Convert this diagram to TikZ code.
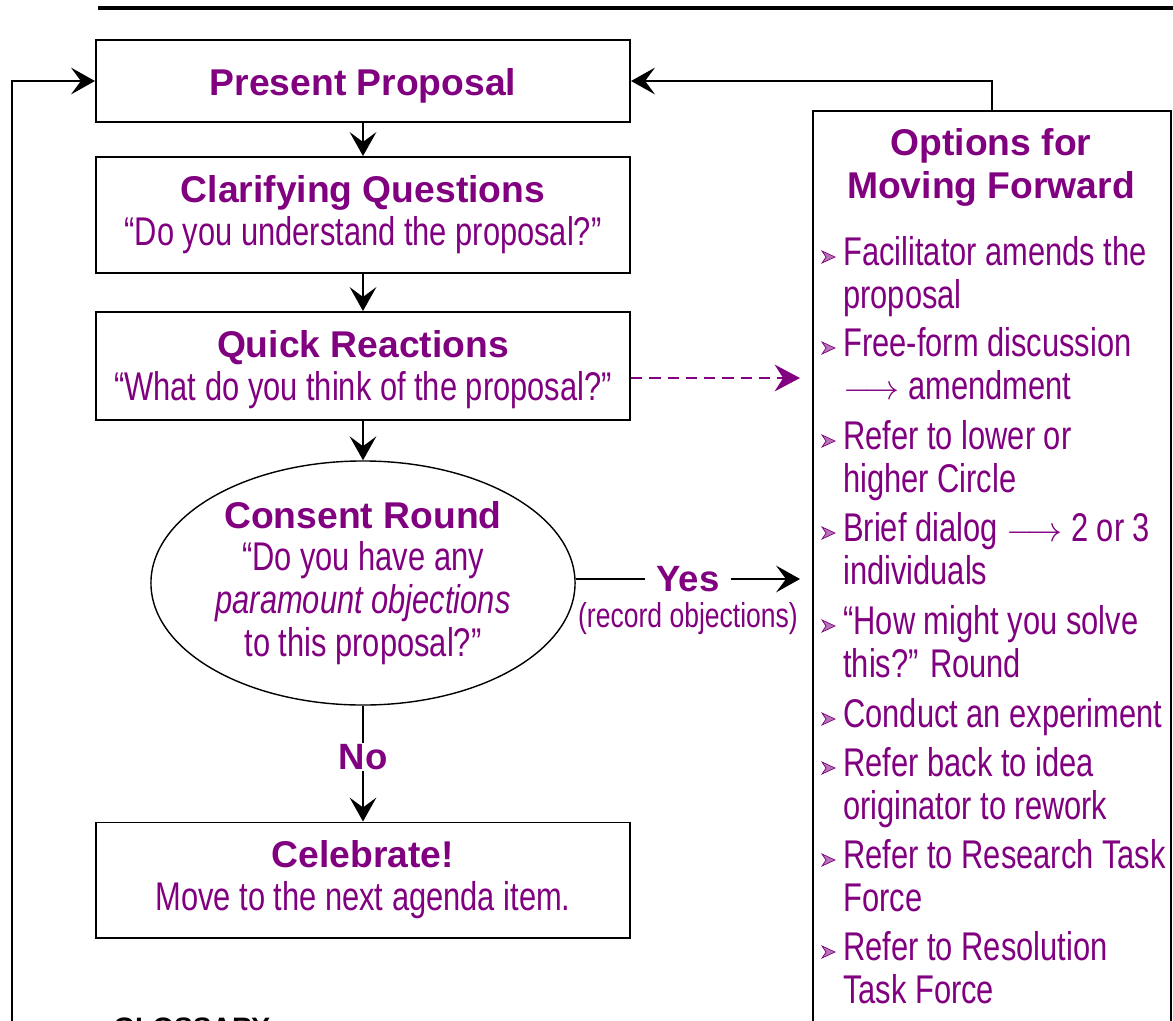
\documentclass[tikz,border=0pt]{standalone}
\usepackage{fontspec}
\setmainfont{Liberation Sans}[FakeStretch=0.77]
\newfontfamily\headfont{Liberation Sans}
\usetikzlibrary{arrows.meta,shapes.geometric}
\definecolor{plum}{RGB}{128,0,128}
\newcommand{\boxtitle}[1]{{\headfont\bfseries\fontsize{26.5}{30.5}\selectfont #1}}

\begin{document}
\begin{tikzpicture}[x=0.025cm,y=-0.025cm,
        every node/.style={text=plum},
        stepbox/.style={draw=black,line width=1.4pt,minimum width=13.35cm,inner sep=0pt,
            align=center,font=\fontsize{28.5}{30.5}\selectfont},
        item/.style={anchor=north west,inner sep=0pt,align=left,font=\fontsize{28.5}{30.5}\selectfont},
        bullet/.style={draw=plum,fill=plum!55,line width=0.5pt},
        arr/.style={-{Stealth[length=17pt,width=19pt,inset=7pt]},line width=1.4pt},
        dasharr/.style={draw=plum,dash pattern=on 8pt off 5pt,line width=1.4pt,
            -{Stealth[length=18pt,width=19pt,inset=6pt,fill=plum]}},
        answer/.style={fill=white,inner xsep=8pt,inner ysep=1pt,font=\headfont\bfseries\fontsize{26}{30}\selectfont}]
    \useasboundingbox (0,0) rectangle (1173,1021);
    \clip (0,0) rectangle (1173,1021);
    \draw[line width=3.5pt] (98,8) -- (1173,8);

    % main column
    \node[stepbox,minimum height=2.05cm,text height=26pt,text depth=5.6pt] (present) at (363,81)
        {\boxtitle{Present Proposal}};
    \node[stepbox,minimum height=2.9cm] (clarify) at (363,215)
        {\boxtitle{Clarifying Questions}\\“Do you understand the proposal?”};
    \node[stepbox,minimum height=2.7cm] (quick) at (363,366)
        {\boxtitle{Quick Reactions}\rule{0pt}{25pt}\\“What do you think of the proposal?”};
    \node[ellipse,draw=black,line width=1pt,minimum width=10.6cm,minimum height=6.1cm,inner sep=0pt,
        align=center,font=\fontsize{28.5}{30.5}\selectfont] (consent) at (363,583)
        {\boxtitle{Consent Round}\\“Do you have any\\\textit{paramount objections}\\to this proposal?”};
    \node[stepbox,minimum height=2.875cm] (celebrate) at (363,880)
        {\boxtitle{Celebrate!}\\Move to the next agenda item.};

    \draw[arr] (present) -- (clarify);
    \draw[arr] (clarify) -- (quick);
    \draw[arr] (quick) -- (consent);
    \draw[arr] (consent.south) -- node[answer,pos=0.44] (no) {No} (celebrate.north);

    % options box
    \node[draw=black,line width=1.4pt,minimum width=8.95cm,minimum height=23.75cm,anchor=north west,
        inner sep=0pt] (options) at (812,110) {};
    \node[anchor=north,inner sep=0pt,align=center,font=\headfont\bfseries\fontsize{26.5}{30.5}\selectfont]
        (optitle) at (991,128) {Options for\\Moving Forward};
    \foreach \yy/\txt [count=\i] in {
            236/{Facilitator amends the\\proposal},
            327/{Free-form discussion\\$\longrightarrow$ amendment},
            420/{Refer to lower or\\higher Circle},
            512/{Brief dialog $\longrightarrow$ 2 or 3\\individuals},
            605/{“How might you solve\\this?” Round},
            698/{Conduct an experiment},
            747/{Refer back to idea\\originator to rework},
            839/{Refer to Research Task\\Force},
            931/{Refer to Resolution\\Task Force}}{
        \node[item] (opt\i) at (843,\yy) {\txt};
        \filldraw[bullet,shift={(opt\i.north west)}] (-21,15) -- (-8,21) -- (-21,27) -- (-17,21) -- cycle;
    }

    % links to the options
    \coordinate (dashend) at (800,378);
    \draw[dasharr] (quick.east |- dashend) -- (dashend);
    \coordinate (yesend) at (800,579);
    \draw[arr] (consent.east |- yesend) -- node[answer] (yes) {Yes} (yesend);
    \node[font=\fontsize{24.5}{28}\selectfont,inner sep=0pt] (record) at (688,619) {(record objections)};

    % loops back to the proposal
    \coordinate (loopfoot) at (12,1060);
    \draw[arr] (loopfoot) |- (present.west);
    \draw[arr] (options.north) |- (present.east);

    \node[anchor=base west,inner sep=0pt,text=black,font=\headfont\bfseries\fontsize{20}{24}\selectfont]
        (glossary) at (113,1037) {GLOSSARY};
\end{tikzpicture}
\end{document}
